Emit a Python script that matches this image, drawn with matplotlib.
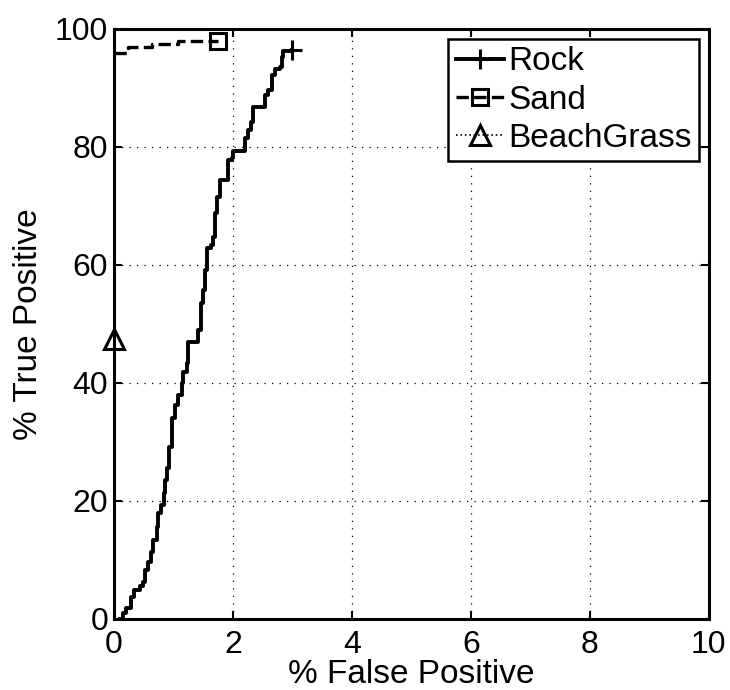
import matplotlib
matplotlib.use("Agg")
import matplotlib.pyplot as plt

plt.rcParams["font.family"] = ["Liberation Sans", "DejaVu Sans"]

# ROC staircase for Rock (% false positive, % true positive)
ROCK_FP = [0.10, 0.16, 0.21, 0.28, 0.34, 0.44, 0.49, 0.52, 0.58, 0.62, 0.66, 0.72,
           0.74, 0.80, 0.84, 0.86, 0.89, 0.92, 0.97, 1.03, 1.08, 1.14, 1.16, 1.23,
           1.25, 1.39, 1.42, 1.46, 1.50, 1.53, 1.57, 1.64, 1.67, 1.70, 1.74, 1.78,
           1.89, 1.91, 1.98, 2.00, 2.17, 2.20, 2.26, 2.31, 2.34, 2.51, 2.54, 2.59,
           2.65, 2.71, 2.79, 2.82, 2.85, 2.99]
ROCK_TP = [0.0, 1.0, 1.8, 3.8, 4.9, 5.5, 6.3, 8.3, 9.7, 11.4, 13.4, 15.6,
           17.9, 19.3, 21.3, 23.6, 25.5, 29.2, 34.0, 36.3, 38.0, 40.0, 41.9, 43.3,
           47.0, 47.0, 49.0, 53.5, 55.8, 59.2, 62.8, 63.4, 64.8, 68.8, 71.6, 74.4,
           74.4, 77.8, 78.1, 79.4, 79.4, 81.5, 82.9, 84.3, 86.8, 86.8, 88.8, 89.7,
           92.2, 93.3, 93.6, 95.3, 96.3, 96.5]

SAND_FP = [0.0, 0.22, 0.24, 0.62, 0.64, 1.05, 1.07, 1.75]
SAND_TP = [96.0, 96.0, 96.9, 96.9, 97.5, 97.5, 98.0, 98.0]

GRASS_FP = [0.0]
GRASS_TP = [47.5]


def staircase(xs, ys):
    sx, sy = [xs[0]], [ys[0]]
    for x, y in zip(xs[1:], ys[1:]):
        sx += [x, x]
        sy += [sy[-1], y]
    return sx, sy


fig = plt.figure(figsize=(7.3, 6.9), dpi=100)
ax = fig.add_axes([0.156, 0.103, 0.815, 0.855])

rx, ry = staircase(ROCK_FP, ROCK_TP)
ax.plot(rx, ry, "k-", lw=2.8, marker="+", markevery=[len(rx) - 1], ms=15, mew=2.2,
        label="Rock", clip_on=False)
sx, sy = staircase(SAND_FP, SAND_TP)
ax.plot(sx, sy, "k--", lw=2.4, marker="s", markevery=[len(sx) - 1], ms=11.5, mew=2.2,
        mfc="none", label="Sand", clip_on=False)
ax.plot(GRASS_FP, GRASS_TP, "k:", lw=1.2, marker="^", ms=15, mew=2.2, mfc="none",
        label="BeachGrass", clip_on=False)

ax.set_xlim(0, 10)
ax.set_ylim(0, 100)
ax.set_xticks(range(0, 11, 2))
ax.set_yticks(range(0, 101, 20))
ax.grid(True, color="k", linestyle=(0, (1, 5)), lw=0.9)
ax.tick_params(direction="in", length=6, width=1.5, labelsize=23, top=True, right=True)
ax.tick_params(axis="x", pad=8)
ax.tick_params(axis="y", pad=4)
for spine in ax.spines.values():
    spine.set_linewidth(2.2)
ax.set_xlabel("% False Positive", fontsize=24, labelpad=-1)
ax.set_ylabel("% True Positive", fontsize=24, labelpad=8)

leg = ax.legend(loc="upper right", fontsize=24, handlelength=1.45, handletextpad=0.12,
                borderpad=0.22, labelspacing=0.22, borderaxespad=0.3, fancybox=False,
                framealpha=1, edgecolor="k")
leg.get_frame().set_linewidth(1.8)

fig.savefig("out.png", dpi=100)
